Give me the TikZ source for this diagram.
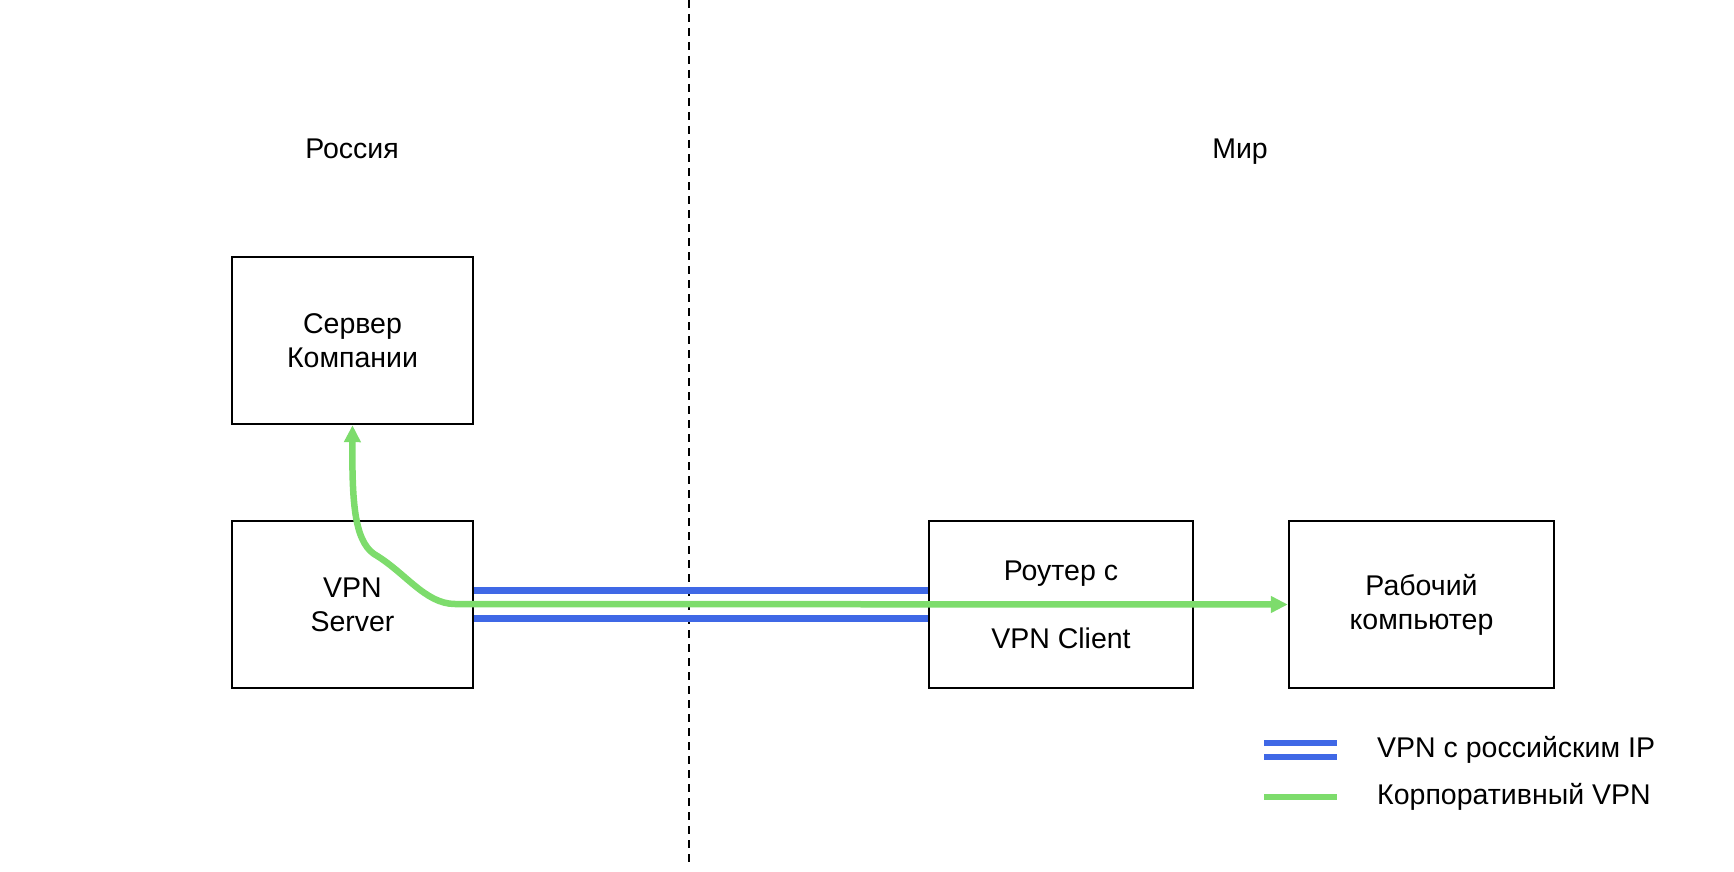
\documentclass[tikz,border=0pt]{standalone}
\usepackage{fontspec}
\setmainfont{Liberation Sans}
\usetikzlibrary{arrows.meta}
\definecolor{vgreen}{HTML}{7DDC6C}
\definecolor{vblue}{HTML}{3F68E6}
\begin{document}
\begin{tikzpicture}[x=1pt,y=-1pt,
  box/.style={draw=black,line width=2.4pt,minimum width=241pt,minimum height=167pt,inner sep=0pt,align=center,font=\fontsize{28.5}{34}\selectfont},
  lbl/.style={font=\fontsize{28.5}{34}\selectfont,inner sep=0pt},
  bluel/.style={vblue,line width=7pt},
  greenl/.style={vgreen,line width=6.5pt}]
\useasboundingbox (0,0) rectangle (1734,872);
% divider
\coordinate (dtop) at (689,0);
\coordinate (dbot) at (689,866);
\draw[line width=2pt,dash pattern=on 8pt off 6pt] (dtop) -- (dbot);
% region labels
\node[lbl,anchor=base] (ru) at (352,158) {Россия};
\node[lbl,anchor=base] (mir) at (1240,158) {Мир};
% boxes
\node[box] (srv) at (352.5,340.5) {Сервер\\Компании};
\node[box] (vpn) at (352.5,604.5) {VPN\\Server};
\node[box,minimum width=264pt] (rt) at (1061,604.5) {Роутер с\\[34pt]VPN Client};
\node[box,minimum width=265pt] (pc) at (1421.5,604.5) {Рабочий\\компьютер};
% blue tunnel
\draw[bluel] (vpn.east|-0,590) -- (rt.west|-0,590);
\draw[bluel] (vpn.east|-0,618) -- (rt.west|-0,618);
% green corporate VPN
\coordinate (bend) at (374,554);
\coordinate (hstart) at (455,604);
\draw[greenl,{Triangle[length=17pt,width=16pt]}-{Triangle[length=17pt,width=16pt]}]
  (srv.south) .. controls (352,500) and (354,540) .. (bend)
  .. controls (405,572) and (425,604) .. (hstart) -- (pc.west);
% legend
\coordinate (lb1a) at (1264,743); \coordinate (lb1b) at (1337,743);
\coordinate (lb2a) at (1264,757); \coordinate (lb2b) at (1337,757);
\coordinate (lga) at (1264,797); \coordinate (lgb) at (1337,797);
\draw[vblue,line width=6.5pt] (lb1a) -- (lb1b);
\draw[vblue,line width=6.5pt] (lb2a) -- (lb2b);
\draw[vgreen,line width=6.5pt] (lga) -- (lgb);
\node[lbl,anchor=west] (l1) at (1377,750) {VPN с российским IP};
\node[lbl,anchor=west] (l2) at (1377,797) {Корпоративный VPN};
\end{tikzpicture}
\end{document}
